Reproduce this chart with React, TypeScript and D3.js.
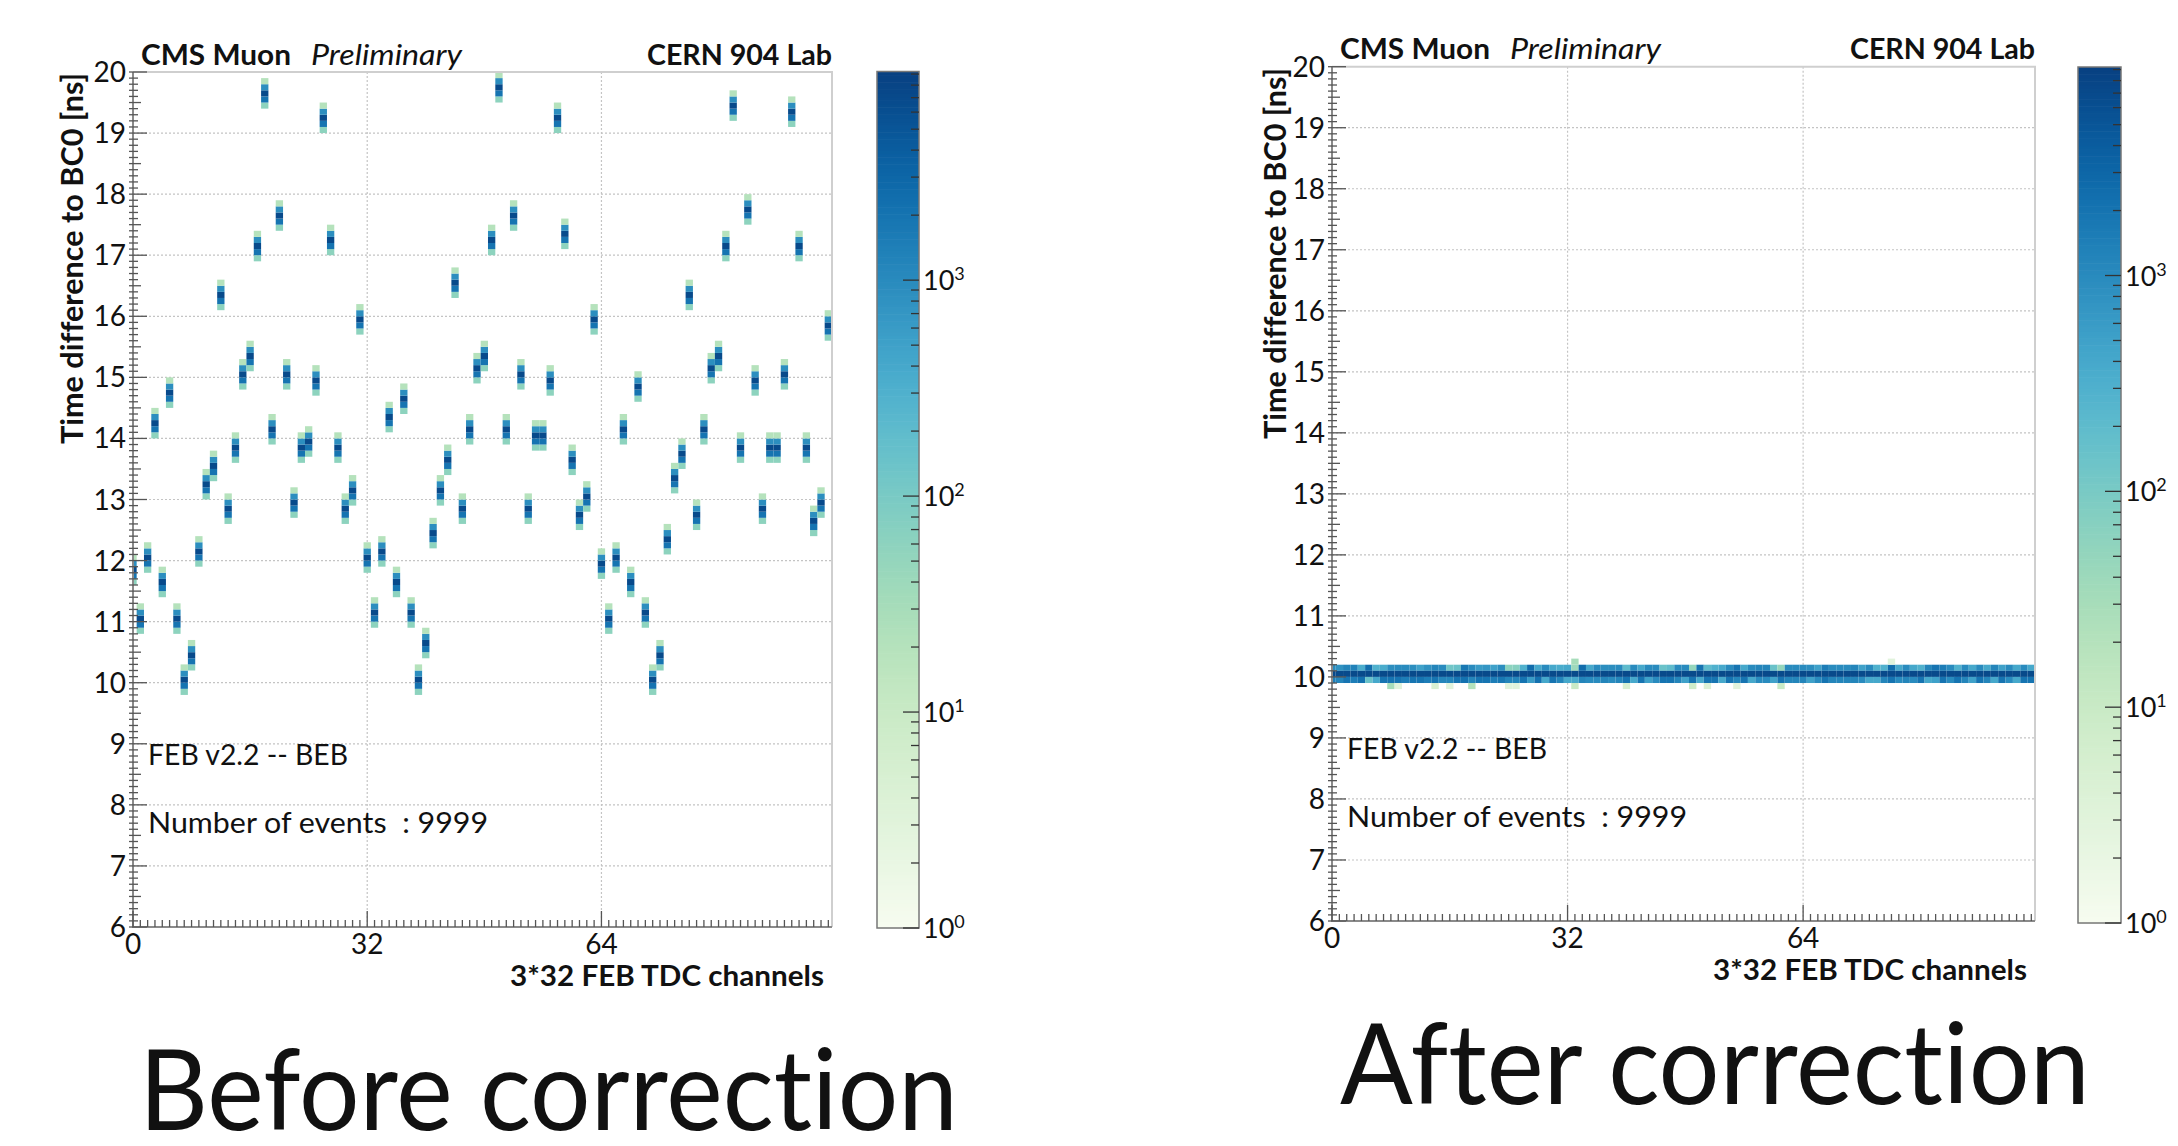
import React, { useEffect, useRef } from "react";
import * as d3 from "d3";

const WIDTH = 2178;
const HEIGHT = 1146;
const FONT = "Lato, 'Open Sans', 'DejaVu Sans', sans-serif";

// BEFORE CORRECTION: time of the peak bin, one value per TDC channel [ns]
const peakTime = [
  11.87, 11.03, 12.03, 14.25, 11.6, 14.77, 11.03, 10.05, 10.45, 12.17, 13.21, 13.54, 16.4, 12.84, 13.88, 15.09,
  15.37, 17.14, 19.6, 14.16, 17.69, 15.07, 12.99, 13.85, 13.97, 14.93, 19.28, 17.22, 13.82, 12.84, 13.1, 15.94,
  12.03, 11.15, 12.16, 14.36, 11.67, 14.68, 11.16, 10.05, 10.63, 12.4, 13.17, 13.67, 16.58, 12.85, 14.11, 15.15,
  15.34, 17.25, 19.73, 14.16, 17.64, 15.04, 12.85, 14.08, 14.08, 14.97, 19.27, 17.36, 13.67, 12.75, 13.05, 15.91,
  11.91, 11.04, 12.05, 14.15, 11.6, 14.82, 11.15, 10.04, 10.47, 12.36, 13.32, 13.73, 16.36, 12.76, 14.14, 15.12,
  15.39, 17.17, 19.48, 13.89, 17.71, 14.96, 12.8, 13.84, 13.84, 15.0, 19.35, 17.17, 13.81, 12.66, 12.94, 15.87,
];
// shape of one channel's cluster: bins (0.1 ns) relative to the peak bin, and their counts
const clusterOffsets = [-2, -1, 0, 1, 2];
const clusterCounts = [60, 2000, 7000, 900, 20];

// AFTER CORRECTION: counts in the 10.1-10.2, 10.0-10.1 and 9.9-10.0 ns bins
const bandTop = [
  1000, 800, 1200, 1300, 350, 2500, 300, 350, 900, 1000, 1000, 900, 500, 800, 1200, 1000,
  120, 150, 1800, 1000, 600, 700, 500, 900, 60, 70, 300, 2500, 400, 1000, 400, 350,
  400, 40, 2500, 400, 1000, 900, 900, 1000, 200, 1000, 400, 1000, 1000, 150, 200, 1000,
  1000, 50, 2000, 200, 300, 400, 1000, 2000, 400, 1000, 1200, 1200, 150, 50, 1000, 1000,
  1000, 900, 500, 1500, 1000, 1000, 1000, 1200, 500, 1000, 300, 300, 2500, 400, 1000, 400,
  300, 1200, 2000, 1500, 1000, 300, 1000, 400, 1000, 400, 1200, 500, 1000, 400, 1000, 400,
];
const bandCore = 7000;
const bandBottom = [
  1500, 1200, 2000, 1500, 2200, 150, 400, 2000, 2000, 2000, 1500, 2000, 2000, 1500, 2000, 1200,
  1200, 2000, 2200, 1200, 2000, 2000, 1500, 1800, 1200, 1200, 2000, 600, 2200, 400, 2000, 1200,
  400, 400, 1200, 1000, 1000, 1200, 1000, 1200, 2000, 400, 2000, 500, 1000, 2000, 2000, 1200,
  500, 2000, 400, 2000, 2000, 400, 2000, 1200, 2000, 400, 1000, 1000, 500, 2000, 1200, 1200,
  1200, 500, 1000, 2000, 1200, 1200, 1200, 1200, 1000, 400, 400, 1200, 2000, 1000, 1200, 1000,
  2000, 400, 500, 2000, 1000, 2000, 1200, 500, 2000, 1200, 400, 2000, 1000, 400, 2000, 2000,
];
// stray entries: [channel, count]
const bandBelow = [[8, 30], [9, 3], [14, 5], [16, 3], [19, 20], [24, 3], [25, 3], [33, 10], [40, 5], [49, 8], [51, 4], [55, 3], [61, 10]];
const bandAbove = [[33, 30], [76, 3]];

const xDomain = [0, 95.5];
const yDomain = [6, 20];
const binWidth = 0.1;
const xLabelTicks = [0, 32, 64];
const yLabelTicks = d3.range(6, 21);
const zMax = 9250;
const zDecades = [0, 1, 2, 3];

const panelBefore = {
  left: 133, right: 832, top: 72, bottom: 927,
  cbLeft: 877, cbRight: 919, cbTop: 71.5, cbBottom: 928,
  yTitleX: 83, yTitleEnd: 73, titleY: 65,
};
const panelAfter = {
  left: 1332, right: 2035, top: 66.7, bottom: 921,
  cbLeft: 2078, cbRight: 2121, cbTop: 67, cbBottom: 923,
  yTitleX: 1286, yTitleEnd: 68, titleY: 59,
};

const beforeCells = peakTime.flatMap((t, ch) => {
  const peak = Math.round((t - 6.05) * 10);
  return clusterOffsets.map((o, i) => ({ ch, t: 6 + (peak + o) * binWidth, n: clusterCounts[i] }));
});
const afterCells = [
  ...bandTop.map((n, ch) => ({ ch, t: 10.1, n })),
  ...bandTop.map((_, ch) => ({ ch, t: 10.0, n: bandCore })),
  ...bandBottom.map((n, ch) => ({ ch, t: 9.9, n })),
  ...bandBelow.map(([ch, n]) => ({ ch, t: 9.8, n })),
  ...bandAbove.map(([ch, n]) => ({ ch, t: 10.2, n })),
];

function addText(g, o) {
  const t = g
    .append("text")
    .attr("x", o.x)
    .attr("y", o.y)
    .attr("font-family", FONT)
    .attr("font-size", o.size)
    .attr("font-weight", o.weight || "normal")
    .attr("font-style", o.italic ? "italic" : "normal")
    .attr("text-anchor", o.anchor || "start")
    .attr("fill", "#111")
    .style("white-space", "pre")
    .style("font-variant-ligatures", "none")
    .text(o.text);
  if (o.len) t.attr("textLength", o.len).attr("lengthAdjust", "spacingAndGlyphs");
  if (o.transform) t.attr("transform", o.transform);
  return t;
}

function drawPanel(svg, p, cells) {
  const x = d3.scaleLinear().domain(xDomain).range([p.left, p.right]);
  const y = d3.scaleLinear().domain(yDomain).range([p.bottom, p.top]);
  const color = d3.scaleSequentialLog(d3.interpolateGnBu).domain([1, zMax]);
  const g = svg.append("g");

  // GRID
  g.append("g")
    .selectAll("line")
    .data(d3.range(7, 20))
    .enter()
    .append("line")
    .attr("x1", p.left)
    .attr("x2", p.right)
    .attr("y1", (d) => y(d))
    .attr("y2", (d) => y(d))
    .attr("stroke", "#c4c4c4")
    .attr("stroke-width", 1.2)
    .attr("stroke-dasharray", "2,2");
  g.append("g")
    .selectAll("line")
    .data([32, 64])
    .enter()
    .append("line")
    .attr("x1", (d) => x(d))
    .attr("x2", (d) => x(d))
    .attr("y1", p.top)
    .attr("y2", p.bottom)
    .attr("stroke", "#c4c4c4")
    .attr("stroke-width", 1.2)
    .attr("stroke-dasharray", "2,2");

  // HISTOGRAM CELLS
  const lo = (d) => x(Math.max(d.ch - 0.5, xDomain[0]));
  const hi = (d) => x(Math.min(d.ch + 0.5, xDomain[1]));
  g.append("g")
    .selectAll("rect")
    .data(cells)
    .enter()
    .append("rect")
    .attr("x", lo)
    .attr("width", (d) => hi(d) - lo(d))
    .attr("y", (d) => y(d.t + binWidth))
    .attr("height", (d) => y(d.t) - y(d.t + binWidth))
    .attr("fill", (d) => color(d.n));

  // FRAME
  g.append("path")
    .attr("d", `M${p.left},${p.top}H${p.right}V${p.bottom}`)
    .attr("fill", "none")
    .attr("stroke", "#cfcfcf")
    .attr("stroke-width", 2);
  g.append("path")
    .attr("d", `M${p.left},${p.top}V${p.bottom}H${p.right}`)
    .attr("fill", "none")
    .attr("stroke", "#8a8a8a")
    .attr("stroke-width", 2);

  // Y TICKS
  g.append("g")
    .selectAll("line")
    .data(d3.range(60, 201))
    .enter()
    .append("line")
    .attr("x1", p.left - 4)
    .attr("x2", (i) => p.left + (i % 10 === 0 ? 14 : i % 5 === 0 ? 8 : 5))
    .attr("y1", (i) => y(i / 10))
    .attr("y2", (i) => y(i / 10))
    .attr("stroke", "#555")
    .attr("stroke-width", 1.3);
  yLabelTicks.forEach((v) =>
    addText(g, { x: p.left - 7, y: y(v) + 10, text: String(v), size: 28, anchor: "end" })
  );

  // X TICKS
  g.append("g")
    .selectAll("line")
    .data(d3.range(0, 96))
    .enter()
    .append("line")
    .attr("x1", (d) => x(d))
    .attr("x2", (d) => x(d))
    .attr("y1", p.bottom)
    .attr("y2", (d) => p.bottom - (d % 32 === 0 ? 16 : 7))
    .attr("stroke", "#555")
    .attr("stroke-width", 1.3);
  xLabelTicks.forEach((v) =>
    addText(g, { x: x(v), y: p.bottom + 27, text: String(v), size: 28, anchor: "middle" })
  );

  // AXIS TITLES
  addText(g, {
    x: p.right - 8, y: p.bottom + 59, text: "3*32 FEB TDC channels", size: 28, weight: "bold", anchor: "end", len: 314,
  });
  addText(g, {
    x: 0, y: 0, text: "Time difference to BC0 [ns]", size: 31, weight: "bold", anchor: "end", len: 371,
    transform: `translate(${p.yTitleX},${p.yTitleEnd}) rotate(-90)`,
  });

  // HEADER
  addText(g, { x: p.left + 8, y: p.titleY, text: "CMS Muon", size: 29, weight: "bold", len: 150 });
  addText(g, { x: p.left + 178, y: p.titleY, text: "Preliminary", size: 29, italic: true, len: 151 });
  addText(g, { x: p.right, y: p.titleY, text: "CERN 904 Lab", size: 29, weight: "bold", anchor: "end", len: 185 });

  // LABELS
  addText(g, { x: p.left + 15, y: y(8.65), text: "FEB v2.2 -- BEB", size: 28, len: 200 });
  addText(g, { x: p.left + 15, y: y(7.54), text: "Number of events  : 9999", size: 28, len: 340 });

  // COLOR BAR
  const z = d3.scaleLog().domain([1, zMax]).range([p.cbBottom, p.cbTop]);
  const steps = d3.range(0, 240);
  const top = Math.log10(zMax);
  g.append("g")
    .selectAll("rect")
    .data(steps)
    .enter()
    .append("rect")
    .attr("x", p.cbLeft)
    .attr("width", p.cbRight - p.cbLeft)
    .attr("y", (i) => z(Math.pow(10, ((i + 1) * top) / steps.length)))
    .attr("height", (i) => z(Math.pow(10, (i * top) / steps.length)) - z(Math.pow(10, ((i + 1) * top) / steps.length)) + 0.6)
    .attr("fill", (i) => color(Math.pow(10, ((i + 0.5) * top) / steps.length)));
  g.append("rect")
    .attr("x", p.cbLeft)
    .attr("y", p.cbTop)
    .attr("width", p.cbRight - p.cbLeft)
    .attr("height", p.cbBottom - p.cbTop)
    .attr("fill", "none")
    .attr("stroke", "#777")
    .attr("stroke-width", 1.5);
  const zTicks = zDecades.flatMap((e) => d3.range(1, 10).map((k) => ({ v: k * Math.pow(10, e), major: k === 1 })));
  g.append("g")
    .selectAll("line")
    .data(zTicks.filter((d) => d.v <= zMax))
    .enter()
    .append("line")
    .attr("x1", (d) => p.cbRight - (d.major ? 16 : 8))
    .attr("x2", p.cbRight)
    .attr("y1", (d) => z(d.v))
    .attr("y2", (d) => z(d.v))
    .attr("stroke", "#333")
    .attr("stroke-width", 1.3);
  zDecades.forEach((e) => {
    const t = addText(g, { x: p.cbRight + 4, y: z(Math.pow(10, e)) + 10, text: "10", size: 27 });
    t.append("tspan").attr("dy", -10).attr("font-size", 18).text(String(e));
  });
}

export default function App() {
  const ref = useRef(null);

  useEffect(() => {
    const svg = d3.select(ref.current);
    svg.selectAll("*").remove();
    svg.append("rect").attr("width", WIDTH).attr("height", HEIGHT).attr("fill", "#ffffff");

    drawPanel(svg, panelBefore, beforeCells);
    drawPanel(svg, panelAfter, afterCells);

    // Slide captions
    addText(svg, { x: 139, y: 1130, text: "Before correction", size: 112, len: 819 });
    addText(svg, { x: 1340, y: 1104, text: "After correction", size: 112, len: 750 });
  }, []);

  return (
    <div style={{ position: "absolute", left: 0, top: 0 }}>
      <svg ref={ref} width={WIDTH} height={HEIGHT} style={{ display: "block" }} />
    </div>
  );
}
